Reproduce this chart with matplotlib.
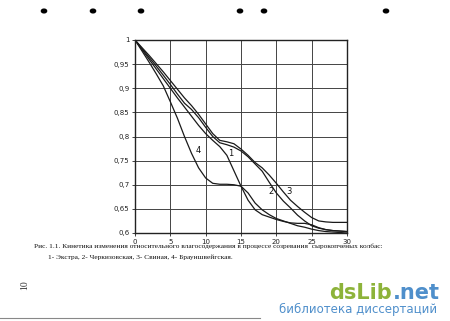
import matplotlib
matplotlib.use("Agg")
import matplotlib.pyplot as plt
from matplotlib.ticker import FuncFormatter

#  Days of ripening
days = [0, 1, 2, 3, 4, 5, 6, 7, 8, 9, 10, 11, 12, 13, 14, 15, 16, 17, 18, 19, 20,
        21, 22, 23, 24, 25, 26, 27, 28, 29, 30]

#  Relative moisture content
extra = [1.0, 0.98, 0.96, 0.94, 0.92, 0.9, 0.88, 0.861, 0.842, 0.823, 0.806, 0.792, 0.779, 0.761,
         0.729, 0.697, 0.668, 0.648, 0.638, 0.633, 0.628, 0.624, 0.621, 0.62, 0.62, 0.617,
         0.611, 0.607, 0.605, 0.604, 0.603]
cherkiz = [1.0, 0.982, 0.964, 0.946, 0.927, 0.908, 0.888, 0.869, 0.856, 0.839, 0.819, 0.80, 0.787,
           0.783, 0.778, 0.77, 0.758, 0.743, 0.728, 0.705, 0.683, 0.666, 0.652, 0.637, 0.625,
           0.615, 0.61, 0.607, 0.605, 0.604, 0.603]
svinaya = [1.0, 0.984, 0.968, 0.951, 0.934, 0.916, 0.898, 0.88, 0.864, 0.846, 0.826, 0.806, 0.792,
           0.789, 0.785, 0.774, 0.761, 0.746, 0.735, 0.72, 0.703, 0.685, 0.668, 0.655, 0.643,
           0.632, 0.625, 0.623, 0.622, 0.622, 0.622]
braun = [1.0, 0.977, 0.954, 0.93, 0.905, 0.872, 0.838, 0.80, 0.765, 0.735, 0.714, 0.703, 0.701,
         0.701, 0.70, 0.697, 0.683, 0.662, 0.648, 0.638, 0.63, 0.625, 0.62, 0.615, 0.612,
         0.608, 0.605, 0.603, 0.602, 0.601, 0.60]

series = [extra, cherkiz, svinaya, braun]
curve_labels = ["1", "2", "3", "4"]
label_pos = [(13.6, 0.764), (19.2, 0.686), (21.8, 0.686), (8.9, 0.772)]

x_ticks = [0, 5, 10, 15, 20, 25, 30]
y_ticks = [0.6, 0.65, 0.7, 0.75, 0.8, 0.85, 0.9, 0.95, 1.0]

caption_1 = ("Рис. 1.1. Кинетика изменения относительного влагосодержания в процессе созревания  "
             "сырокопченых колбас:")
caption_2 = "1- Экстра, 2- Черкизовская, 3- Свиная, 4- Брауншвейгская."

fig = plt.figure( figsize = ( 4.5, 3.21 ), dpi = 100 )
fig.patch.set_facecolor( "white" )
ax = fig.add_axes( [ 135 / 450, 88 / 321, 212 / 450, 193 / 321 ] )

for values in series:
  ax.plot( days, values, color = "#1a1a1a", lw = 0.9 )

for text, ( lx, ly ) in zip( curve_labels, label_pos ):
  ax.text( lx, ly, text, fontsize = 6, color = "#111111", ha = "center", va = "center" )

ax.set_xlim( 0, 30 )
ax.set_ylim( 0.6, 1.0 )
ax.set_xticks( x_ticks )
ax.set_yticks( y_ticks )
ax.yaxis.set_major_formatter( FuncFormatter( lambda v, p: ( "%g" % round( v, 2 ) ).replace( ".", "," ) ) )
ax.tick_params( labelsize = 5, length = 2, width = 0.6, pad = 2, colors = "#222222" )
ax.grid( True, color = "#444444", lw = 0.7 )
for s in ax.spines.values():
  s.set_linewidth( 1.0 )
  s.set_color( "#222222" )

#  Caption under the chart
fig.text( 34 / 450, 1 - 246 / 321, caption_1, family = "Liberation Serif", fontsize = 5.3,
          va = "center", ha = "left", color = "#111111" )
fig.text( 48 / 450, 1 - 257 / 321, caption_2, family = "Liberation Serif", fontsize = 5.3,
          va = "center", ha = "left", color = "#111111" )

#  Page number, rotated as on the scan
fig.text( 25 / 450, 1 - 285 / 321, "10", family = "Liberation Serif", fontsize = 7,
          rotation = 90, va = "center", ha = "center", color = "#333333" )

#  Scan punch holes along the top
for hx in [ 44, 93, 141, 240, 264, 386 ]:
  fig.patches.append( matplotlib.patches.Circle( ( hx / 450, 1 - 11 / 321 ), 2.6 / 450,
                      transform = fig.transFigure, color = "black" ) )

#  Bottom rule
fig.add_artist( matplotlib.lines.Line2D( [ 0, 260 / 450 ], [ 1 - 318 / 321 ] * 2,
                color = "#888888", lw = 0.8 ) )

#  Watermark, ".net" is anchored to the right edge of "dsLib" so they never overlap
ds = fig.text( 329 / 450, 1 - 293 / 321, "dsLib", family = "DejaVu Sans", fontsize = 15, weight = "bold",
               color = "#8db33a", va = "center", ha = "left" )
fig.add_artist( matplotlib.text.Annotation( ".net", xy = ( 1, 0.5 ), xycoords = ds, xytext = ( 0.5, 0 ),
                textcoords = "offset points", family = "DejaVu Sans", fontsize = 15, weight = "bold",
                color = "#4f8fcb", va = "center", ha = "left" ) )
fig.text( 437 / 450, 1 - 309 / 321, "библиотека диссертаций", family = "DejaVu Sans", fontsize = 8.5,
          color = "#4f8fcb", va = "center", ha = "right" )

fig.savefig( "out.png", dpi = 100 )
